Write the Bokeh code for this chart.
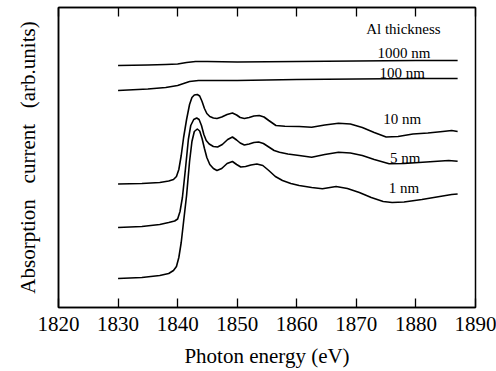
from bokeh.plotting import figure
from bokeh.models import FixedTicker, LinearAxis, Range1d, Label
from bokeh.embed import file_html
from bokeh.resources import INLINE

# ---- data (photon energy in eV, absorption current in arb. units) ----
e_1000 = [1830, 1835, 1838, 1840, 1841.5, 1843, 1845, 1850, 1860, 1870, 1880, 1887]
y_1000 = [2.42, 2.425, 2.43, 2.435, 2.45, 2.46, 2.46, 2.455, 2.46, 2.465, 2.47, 2.47]

e_100 = [1830, 1835, 1838, 1840, 1841, 1842, 1843.5, 1846, 1850, 1860, 1870, 1880, 1887]
y_100 = [2.17, 2.185, 2.20, 2.22, 2.24, 2.26, 2.27, 2.27, 2.27, 2.28, 2.285, 2.29, 2.29]

e_10 = [1830, 1834, 1837, 1838.5, 1839.3, 1839.8, 1840.2, 1840.6, 1841.0, 1841.5, 1842.0,
        1842.4, 1842.8, 1843.3, 1843.7, 1844.1, 1844.5, 1844.9, 1845.4, 1846.0, 1846.6,
        1847.4, 1848.3, 1849.2, 1849.9, 1850.5, 1851.2, 1852.0, 1852.8, 1853.7, 1854.5,
        1855.3, 1856.5, 1858.0, 1860.4, 1862.5, 1864.7, 1867.0, 1869.0, 1871.0, 1873.0,
        1875.0, 1877.0, 1879.5, 1882.0, 1884.5, 1886.0, 1887.0]
y_10 = [1.235, 1.24, 1.25, 1.265, 1.28, 1.31, 1.38, 1.52, 1.70, 1.88, 2.03,
        2.10, 2.125, 2.13, 2.115, 2.06, 1.99, 1.94, 1.91, 1.895, 1.89,
        1.905, 1.93, 1.945, 1.925, 1.90, 1.89, 1.90, 1.915, 1.92, 1.905,
        1.87, 1.82, 1.812, 1.81, 1.803, 1.825, 1.843, 1.835, 1.80, 1.75,
        1.705, 1.71, 1.735, 1.745, 1.76, 1.77, 1.76]

e_5 = [1830, 1834, 1837, 1838.5, 1839.5, 1840.0, 1840.4, 1840.8, 1841.3, 1841.8, 1842.2,
       1842.7, 1843.2, 1843.6, 1844.0, 1844.4, 1844.8, 1845.3, 1846.0, 1846.7, 1847.5,
       1848.4, 1849.2, 1849.9, 1850.5, 1851.2, 1852.0, 1852.8, 1853.6, 1854.4, 1855.3,
       1856.2, 1857.1, 1858.5, 1860.4, 1862.5, 1864.7, 1867.0, 1869.0, 1871.0, 1873.0,
       1875.5, 1878.0, 1880.5, 1883.0, 1885.5, 1887.0]
y_5 = [0.80, 0.81, 0.83, 0.85, 0.865, 0.885, 0.96, 1.10, 1.38, 1.68, 1.82,
       1.88, 1.895, 1.88, 1.82, 1.73, 1.67, 1.635, 1.61, 1.605, 1.63,
       1.68, 1.705, 1.675, 1.645, 1.625, 1.635, 1.65, 1.655, 1.64, 1.605,
       1.57, 1.553, 1.535, 1.52, 1.503, 1.53, 1.553, 1.545, 1.52, 1.48,
       1.437, 1.44, 1.45, 1.46, 1.47, 1.462]

e_1 = [1830, 1834, 1837, 1838.5, 1839.3, 1839.8, 1840.2, 1840.6, 1841.0, 1841.5, 1842.0,
       1842.4, 1842.8, 1843.3, 1843.7, 1844.1, 1844.5, 1844.9, 1845.4, 1846.0, 1846.6,
       1847.4, 1848.3, 1849.2, 1849.9, 1850.6, 1851.4, 1852.3, 1853.3, 1854.3, 1855.3,
       1856.4, 1857.6, 1859.0, 1860.4, 1862.5, 1864.3, 1866.6, 1868.5, 1870.5, 1872.5,
       1874.5, 1876.0, 1878.0, 1881.0, 1884.0, 1886.0, 1887.0]
y_1 = [0.29, 0.30, 0.32, 0.34, 0.37, 0.41, 0.50, 0.65, 0.86, 1.12, 1.46,
       1.66, 1.76, 1.785, 1.765, 1.69, 1.59, 1.50, 1.43, 1.39, 1.37,
       1.39, 1.44, 1.46, 1.43, 1.405, 1.41, 1.425, 1.435, 1.42, 1.37,
       1.31, 1.27, 1.24, 1.22, 1.20, 1.187, 1.21, 1.19, 1.15, 1.10,
       1.06, 1.05, 1.055, 1.08, 1.11, 1.13, 1.135]

x_ticks = [1820, 1830, 1840, 1850, 1860, 1870, 1880, 1890]

label_texts = ["Al thickness", "1000 nm", "100 nm", "10 nm", "5 nm", "1 nm"]
label_x = [1877.9, 1878.0, 1877.7, 1877.7, 1878.2, 1878.0]
label_y = [2.79, 2.55, 2.35, 1.89, 1.50, 1.20]

SERIF = "Liberation Serif"

p = figure(width=496, height=371, output_backend="svg", toolbar_location=None,
           x_range=Range1d(1820, 1890), y_range=Range1d(0, 3.0),
           min_border_left=58, min_border_right=21, min_border_top=7, min_border_bottom=64,
           background_fill_color="white", border_fill_color="white")

p.xgrid.visible = False
p.ygrid.visible = False
p.outline_line_color = "black"
p.outline_line_width = 1.5
p.outline_line_alpha = 1.0

for xs, ys in [(e_1000, y_1000), (e_100, y_100), (e_10, y_10), (e_5, y_5), (e_1, y_1)]:
    p.line(xs, ys, line_color="black", line_width=1.6, line_join="round")

# bottom axis
xa = p.xaxis[0]
xa.ticker = FixedTicker(ticks=x_ticks)
xa.major_tick_in = 9
xa.major_tick_out = 0
xa.minor_tick_line_color = None
xa.major_tick_line_width = 1.3
xa.axis_line_width = 1.5
xa.major_label_text_font = SERIF
xa.major_label_text_font_size = "21px"
xa.major_label_text_color = "black"
xa.major_label_standoff = 9
xa.axis_label = "Photon energy (eV)"
xa.axis_label_text_font = SERIF
xa.axis_label_text_font_size = "21px"
xa.axis_label_text_font_style = "normal"
xa.axis_label_text_color = "black"
xa.axis_label_standoff = 10

# top axis (ticks only, empty labels)
top = LinearAxis(ticker=FixedTicker(ticks=x_ticks), major_tick_in=9, major_tick_out=0,
                 minor_tick_line_color=None, major_label_standoff=0,
                 major_label_overrides={t: "" for t in x_ticks},
                 axis_line_width=1.5, major_tick_line_width=1.3)
p.add_layout(top, "above")

# left axis (no ticks)
ya = p.yaxis[0]
ya.ticker = FixedTicker(ticks=[])
ya.major_tick_line_color = None
ya.minor_tick_line_color = None
ya.major_label_standoff = 0
ya.axis_line_width = 1.5
ya.axis_label = "Absorption\u2002 current\u2002 (arb.units)"
ya.axis_label_text_font = SERIF
ya.axis_label_text_font_size = "21px"
ya.axis_label_text_font_style = "normal"
ya.axis_label_text_color = "black"
ya.axis_label_standoff = 19

for t, lx, ly in zip(label_texts, label_x, label_y):
    p.add_layout(Label(x=lx, y=ly, text=t, text_font=SERIF, text_font_size="15px",
                       text_align="center", text_baseline="middle", text_color="black"))

open("out.html", "w").write(file_html(p, INLINE))
